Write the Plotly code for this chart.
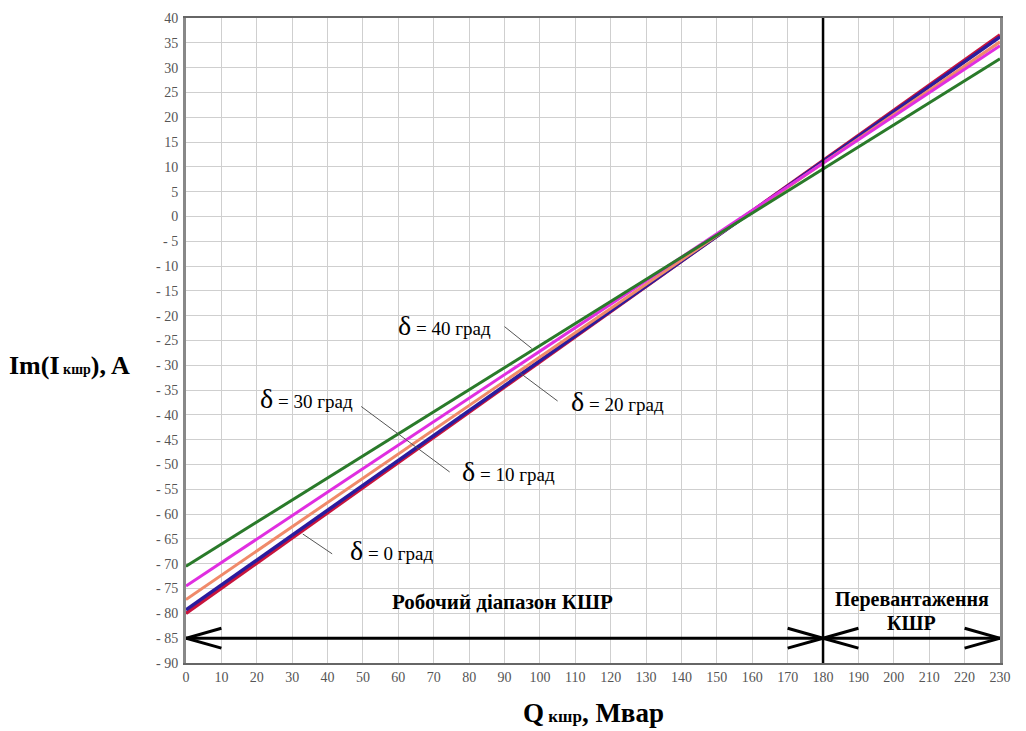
import plotly.graph_objects as go

# ---- data ----
q_kshr = [0, 230]                       # Q кшр, Мвар (endpoints of straight lines)
delta_labels = ["δ = 0 град", "δ = 10 град", "δ = 20 град", "δ = 30 град", "δ = 40 град"]
im_d0 = [-80.0, 36.6]
im_d10 = [-79.3, 36.2]
im_d20 = [-77.2, 35.2]
im_d30 = [-74.5, 34.4]
im_d40 = [-70.5, 31.8]
x_ticks = list(range(0, 231, 10))
y_ticks = list(range(-90, 41, 5))
y_ticktext = [str(v) if v >= 0 else "- " + str(-v) for v in y_ticks]
q_limit = 180                           # boundary of working range
arrow_y = -85

serif = "'Liberation Serif', 'Times New Roman', 'DejaVu Serif', serif"
fig = go.Figure()

series = [
    (im_d0, "#c8143c", 3.5),
    (im_d10, "#2a1c9e", 3.5),
    (im_d20, "#f08a6a", 3),
    (im_d30, "#e02ee0", 3),
    (im_d40, "#2a7a2a", 3),
]
for (vals, col, w), name in zip(series, delta_labels):
    fig.add_trace(go.Scatter(x=q_kshr, y=vals, mode="lines", name=name,
                             line=dict(color=col, width=w), showlegend=False,
                             hoverinfo="skip"))

shapes = []
# vertical boundary line
shapes.append(dict(type="line", xref="x", yref="y", x0=q_limit, x1=q_limit, y0=-90, y1=40,
                   line=dict(color="black", width=2.5)))
# horizontal double arrows
def hline(x0, x1, y0, y1, w=3):
    shapes.append(dict(type="line", xref="x", yref="y", x0=x0, x1=x1, y0=y0, y1=y1,
                       line=dict(color="black", width=w)))
hline(0, 230, arrow_y, arrow_y)
for tip, d in [(0, 1), (q_limit, -1), (q_limit, 1), (230, -1)]:
    hline(tip, tip + d * 10, arrow_y, arrow_y + 2)
    hline(tip, tip + d * 10, arrow_y, arrow_y - 2)

# leader lines
leader = dict(color="#555555", width=1)
for (x0, y0, x1, y1) in [(90, -22.2, 97.7, -26.6),
                         (105, -37.2, 94.5, -31.6),
                         (49.5, -38.3, 74.5, -51.5),
                         (41.3, -68.0, 33.0, -64.0)]:
    shapes.append(dict(type="line", xref="x", yref="y", x0=x0, x1=x1, y0=y0, y1=y1, line=leader))

ann = []
def label(x, y, text, size=20):
    ann.append(dict(x=x, y=y, xref="x", yref="y", text=text, showarrow=False,
                    xanchor="center", yanchor="middle",
                    font=dict(family=serif, size=size, color="black")))

def dlabel(x, y, lab):
    parts = lab.split(" ", 1)
    label(x, y, "<span style='font-size:28px'>δ</span> " + parts[1], size=19)

dlabel(73, -21.9, delta_labels[4])
dlabel(122, -37.3, delta_labels[2])
dlabel(34, -36.6, delta_labels[3])
dlabel(91, -51.4, delta_labels[1])
dlabel(58, -67.3, delta_labels[0])

label(89.5, -77.8, "<b>Робочий діапазон КШР</b>", size=21)
label(205, -77.2, "<b>Перевантаження</b>", size=20)
label(205, -82.0, "<b>КШР</b>", size=20)

# axis titles
ann.append(dict(xref="paper", yref="y", x=-0.22, y=-30, xanchor="left", yanchor="middle",
                text="<b>Im(I<span style='font-size:14px'> кшр</span>), A</b>",
                showarrow=False, font=dict(family=serif, size=26, color="black")))
ann.append(dict(xref="paper", yref="paper", x=0.5, y=-0.078, xanchor="center", yanchor="middle",
                text="<b>Q<span style='font-size:17px'> кшр</span>, Мвар</b>",
                showarrow=False, font=dict(family=serif, size=27, color="black")))

fig.update_layout(
    width=1026, height=731,
    margin=dict(l=186, r=26, t=11, b=68),
    plot_bgcolor="white", paper_bgcolor="white",
    font=dict(family=serif),
    shapes=shapes, annotations=ann,
    xaxis=dict(range=[0, 230], tickvals=x_ticks, ticktext=[str(v) for v in x_ticks],
               showgrid=True, gridcolor="#cfcfcf", gridwidth=1.2, zeroline=False,
               showline=True, linecolor="#666666", linewidth=2, mirror=True,
               ticks="", tickfont=dict(family=serif, size=14, color="#555555")),
    yaxis=dict(range=[-90, 40], tickvals=y_ticks, ticktext=y_ticktext,
               showgrid=True, gridcolor="#cfcfcf", gridwidth=1.2, zeroline=False,
               showline=True, linecolor="#888888", linewidth=3, mirror=True,
               ticks="", ticklabelstandoff=2,
               tickfont=dict(family=serif, size=14, color="#555555")),
)
fig.write_html("out.html")
